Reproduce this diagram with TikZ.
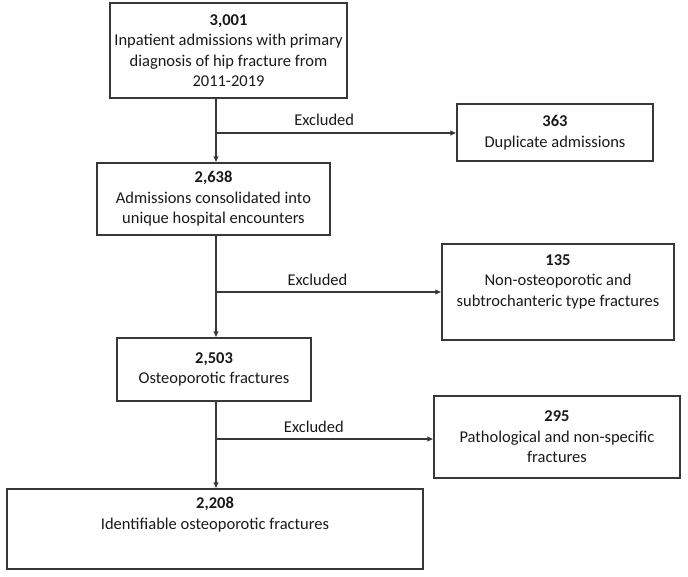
\documentclass[tikz,border=0pt]{standalone}
\usepackage{fontspec}
\setmainfont{Carlito}
\usetikzlibrary{arrows.meta, positioning}
\definecolor{linegray}{rgb}{0.22,0.22,0.22}
\definecolor{textgray}{rgb}{0.1,0.1,0.1}
\newcommand{\Cnt}[1]{\textbf{#1}}

\begin{document}
\begin{tikzpicture}[x=1pt,y=-1pt,>={Latex[length=6pt,width=5.5pt]},
  font=\fontsize{16.5}{20.5}\selectfont,
  box/.style={draw=linegray, line width=1.1pt, align=center, text=textgray, inner sep=0pt},
  flow/.style={->, draw=linegray, line width=1.1pt},
  excl/.style={above=3pt, pos=0.45, text=textgray}]
  \useasboundingbox (0,0) rectangle (688,576);
  % main stream
  \node[box, minimum width=237, minimum height=95] (N0) at (228.5,50.5)
    {\Cnt{3,001}\\Inpatient admissions with primary\\diagnosis of hip fracture from\\2011-2019};
  \node[box, minimum width=233, minimum height=72] (N1) at (213.5,199)
    {\Cnt{2,638}\\Admissions consolidated into\\unique hospital encounters};
  \node[box, minimum width=194, minimum height=63] (N2) at (214,369.5)
    {\Cnt{2,503}\\Osteoporotic fractures};
  \node[box, minimum width=416, minimum height=80, text depth=31pt] (N3) at (215,529)
    {\Cnt{2,208}\\Identifiable osteoporotic fractures};
  % excluded boxes
  \node[box, minimum width=196, minimum height=57] (E0) at (555,132.5)
    {\Cnt{363}\\Duplicate admissions};
  \node[box, minimum width=232, minimum height=96, text depth=23pt] (E1) at (558,292)
    {\Cnt{135}\\Non-osteoporotic and\\subtrochanteric type fractures};
  \node[box, minimum width=246, minimum height=82] (E2) at (557,437)
    {\Cnt{295}\\Pathological and non-specific\\fractures};
  % branch points
  \coordinate (B0) at (216,133);
  \coordinate (B1) at (216,292);
  \coordinate (B2) at (216,439);
  \draw[flow] (N0.south -| B0) -- (N1.north -| B0);
  \draw[flow] (N1.south -| B1) -- (N2.north -| B1);
  \draw[flow] (N2.south -| B2) -- (N3.north -| B2);
  \draw[flow] (B0) -- node[excl]{Excluded} (E0.west |- B0);
  \draw[flow] (B1) -- node[excl]{Excluded} (E1.west |- B1);
  \draw[flow] (B2) -- node[excl]{Excluded} (E2.west |- B2);
\end{tikzpicture}
\end{document}
